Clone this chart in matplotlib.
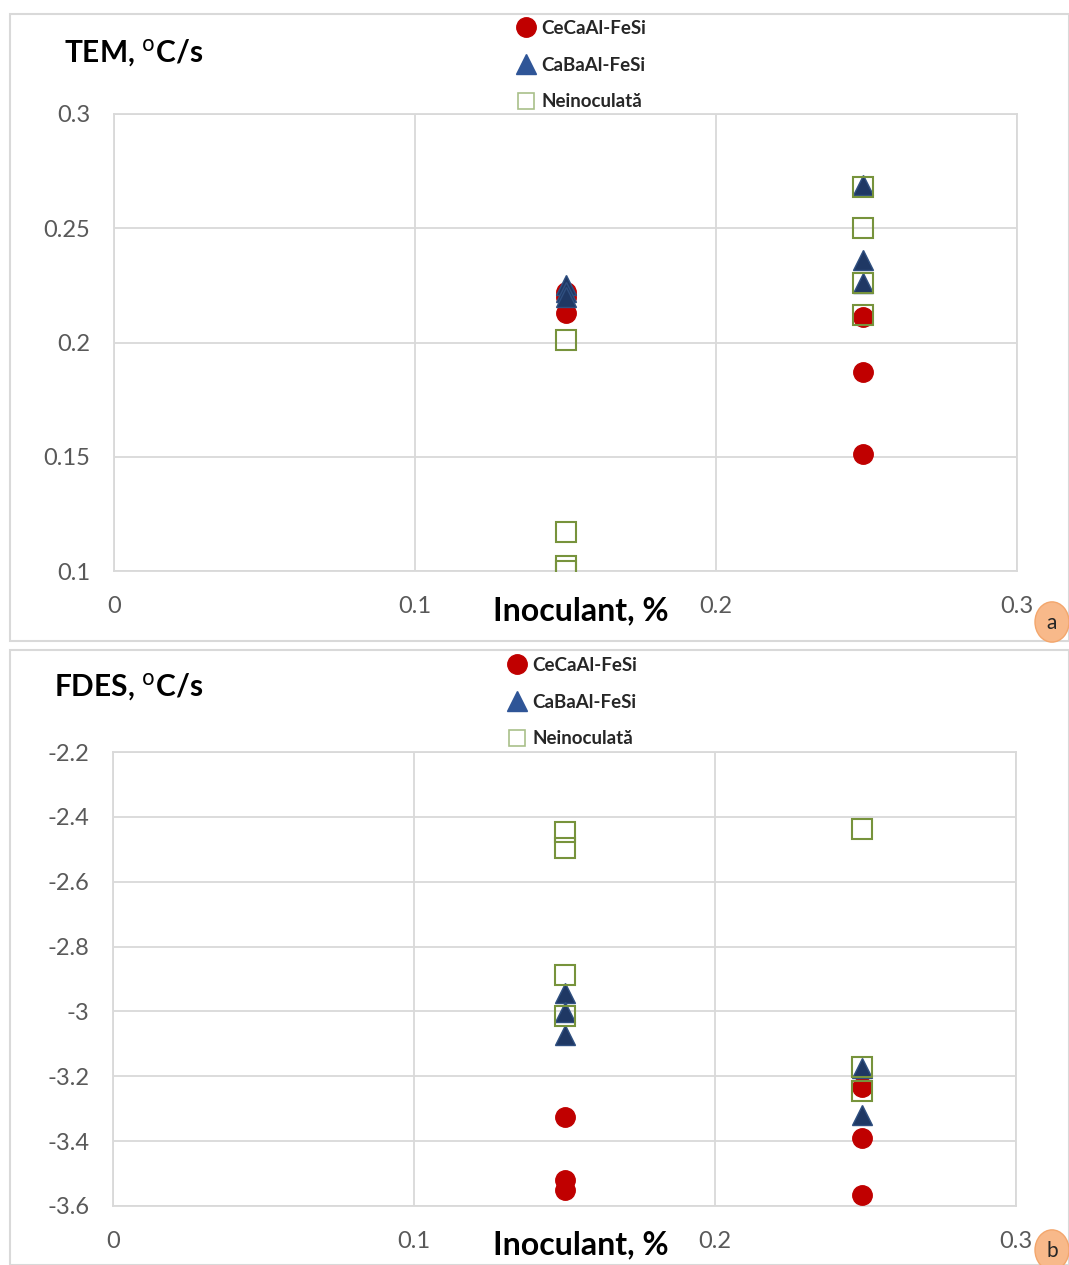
import matplotlib
matplotlib.use("Agg")
import matplotlib.pyplot as plt
from matplotlib.lines import Line2D
from matplotlib.patches import Rectangle, Circle

plt.rcParams['font.family'] = ['Lato', 'DejaVu Sans']

# Painel a - TEM, oC/s
tem_x_ce = [0.15, 0.15, 0.15, 0.249, 0.249, 0.249]
tem_y_ce = [0.222, 0.220, 0.213, 0.211, 0.187, 0.151]
tem_x_ba = [0.15, 0.15, 0.15, 0.249, 0.249, 0.249]
tem_y_ba = [0.225, 0.222, 0.220, 0.269, 0.236, 0.226]
tem_x_ne = [0.15, 0.15, 0.15, 0.15, 0.249, 0.249, 0.249, 0.249]
tem_y_ne = [0.201, 0.117, 0.102, 0.100, 0.268, 0.250, 0.226, 0.212]

# Painel b - FDES, oC/s
fdes_x_ce = [0.15, 0.15, 0.15, 0.249, 0.249, 0.249]
fdes_y_ce = [-3.325, -3.520, -3.551, -3.233, -3.390, -3.566]
fdes_x_ba = [0.15, 0.15, 0.15, 0.249, 0.249]
fdes_y_ba = [-2.943, -3.002, -3.073, -3.174, -3.319]
fdes_x_ne = [0.15, 0.15, 0.15, 0.15, 0.249, 0.249, 0.249]
fdes_y_ne = [-2.447, -2.496, -2.888, -3.014, -2.437, -3.171, -3.245]

serii = ["CeCaAl-FeSi", "CaBaAl-FeSi", "Neinoculată"]
x_ticks = [0, 0.1, 0.2, 0.3]
tem_ticks = [0.1, 0.15, 0.2, 0.25, 0.3]
fdes_ticks = [-3.6, -3.4, -3.2, -3.0, -2.8, -2.6, -2.4, -2.2]
tem_labels = ["0.1", "0.15", "0.2", "0.25", "0.3"]
fdes_labels = ["-3.6", "-3.4", "-3.2", "-3", "-2.8", "-2.6", "-2.4", "-2.2"]
x_labels = ["0", "0.1", "0.2", "0.3"]

W, H = 1069, 1265
fig = plt.figure(figsize=(W / 100, H / 100), dpi=100)

def fx(px):
    return px / W

def fy(py):
    return 1 - py / H

# chenare panouri
for (x0, y0, x1, y1) in [(10, 14, 1069, 641), (10, 650, 1069, 1265)]:
    fig.add_artist(Rectangle((fx(x0), fy(y1)), fx(x1 - x0), (y1 - y0) / H,
                             transform=fig.transFigure, fill=False,
                             edgecolor="#d9d9d9", lw=1.5))

red = "#c00000"
navy = "#1f3864"
green = "#77933c"
grey = "#595959"

def panel(rect, xs, ys, yticks, ylabels, title, title_pos, leg_pos, badge, label_y):
    ax = fig.add_axes(rect)
    ax.set_xlim(0, 0.3)
    ax.set_ylim(yticks[0], yticks[-1])
    ax.set_xticks(x_ticks)
    ax.set_xticklabels(x_labels)
    ax.set_yticks(yticks)
    ax.set_yticklabels(ylabels)
    ax.grid(True, color="#d9d9d9", lw=1.3)
    ax.set_axisbelow(True)
    for s in ax.spines.values():
        s.set_color("#d9d9d9")
        s.set_linewidth(1.3)
    ax.tick_params(length=0, labelsize=17, colors=grey, pad=18)
    ax.tick_params(axis="y", pad=17)
    ax.plot(xs[0], ys[0], linestyle="none", marker="o", ms=14, color=red,
            label=serii[0], zorder=3)
    ax.plot(xs[1], ys[1], linestyle="none", marker="^", ms=14, color=navy,
            markeredgecolor="#2f4f80", label=serii[1], zorder=4)
    ax.plot(xs[2], ys[2], linestyle="none", marker="s", ms=14, markerfacecolor="none",
            markeredgecolor=green, markeredgewidth=1.5, label=serii[2], zorder=5)

    handles = [
        Line2D([], [], linestyle="none", marker="o", ms=14, color=red),
        Line2D([], [], linestyle="none", marker="^", ms=14, color="#2f5597"),
        Line2D([], [], linestyle="none", marker="s", ms=12, markerfacecolor="none",
               markeredgecolor="#a9c08a", markeredgewidth=1.2),
    ]
    leg = fig.legend(handles, serii, loc="upper left",
                     bbox_to_anchor=(fx(leg_pos[0]), fy(leg_pos[1])),
                     frameon=False, handlelength=0.8, handletextpad=0.45,
                     labelspacing=1.05, borderaxespad=0, borderpad=0,
                     prop={"weight": "bold", "size": 13.5})
    for t in leg.get_texts():
        t.set_color("#262626")

    fig.text(fx(title_pos[0]), fy(title_pos[1]), title, fontsize=21.5,
             fontweight="bold", va="center", ha="left")
    fig.text(fx(581), fy(label_y), "Inoculant, %", fontsize=23,
             fontweight="bold", va="center", ha="center")
    # eticheta a / b
    fig.add_artist(Circle((fx(badge[0]), fy(badge[1])), 17 / W,
                          transform=fig.transFigure, facecolor="#f8b98a",
                          edgecolor="#f3a66c", lw=1))
    fig.text(fx(badge[0]), fy(badge[1] + 1), badge[2], fontsize=15,
             ha="center", va="center", color="#262626")
    return ax

panel([fx(114), fy(571), fx(1017 - 114), (571 - 114) / H],
      [tem_x_ce, tem_x_ba, tem_x_ne], [tem_y_ce, tem_y_ba, tem_y_ne],
      tem_ticks, tem_labels, "TEM, $^{\\mathrm{o}}$C/s", (64, 53), (518, 20),
      (1052, 622, "a"), 611)

panel([fx(113), fy(1206), fx(1016 - 113), (1206 - 752) / H],
      [fdes_x_ce, fdes_x_ba, fdes_x_ne], [fdes_y_ce, fdes_y_ba, fdes_y_ne],
      fdes_ticks, fdes_labels, "FDES, $^{\\mathrm{o}}$C/s", (54, 687), (509, 657),
      (1052, 1250, "b"), 1245)

fig.savefig("out.png", dpi=100)
